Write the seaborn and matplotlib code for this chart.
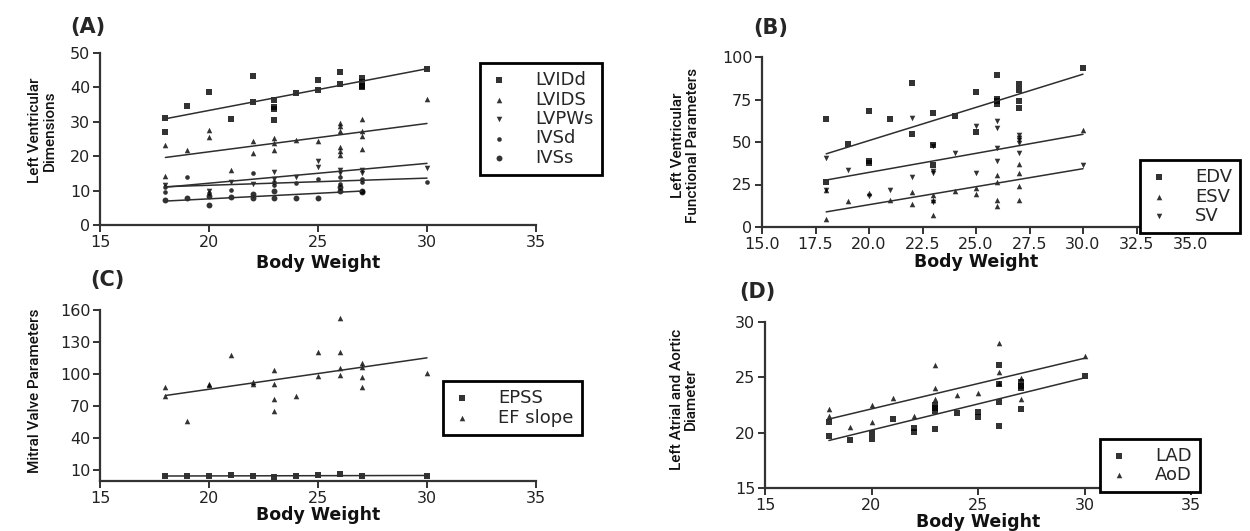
import matplotlib
matplotlib.use("Agg")
import matplotlib.pyplot as plt
from matplotlib import font_manager
import seaborn as sns
import pandas as pd

# ---------------- data ----------------
# Panel A: Left ventricular dimensions
LVIDd_x = [18, 18, 19, 20, 21, 22, 22, 23, 23, 23, 23, 24, 25, 25, 26, 26, 27, 27, 27, 27, 30]
LVIDd_y = [31.1, 27.1, 34.5, 38.6, 30.8, 43.4, 35.9, 36.4, 34.3, 33.7, 30.4, 38.3, 42.2, 39.3, 44.4, 41.1, 42.7, 41.5, 40.5, 40.0, 45.3]
LVIDS_x = [18, 18, 19, 20, 20, 21, 22, 22, 23, 23, 23, 24, 25, 26, 26, 26, 26, 26, 26, 27, 27, 27, 27, 30]
LVIDS_y = [23.2, 14.3, 21.7, 27.7, 25.6, 16.1, 24.5, 21.0, 25.2, 23.8, 21.8, 24.8, 24.3, 29.7, 28.8, 27.2, 22.6, 21.4, 20.4, 30.8, 27.3, 25.8, 22.0, 36.5]
LVPWs_x = [18, 20, 21, 22, 23, 23, 24, 25, 25, 26, 26, 27, 27, 30]
LVPWs_y = [11.5, 10.0, 12.5, 12.0, 15.5, 13.5, 14.0, 18.5, 17.0, 16.0, 15.0, 16.0, 15.0, 16.5]
IVSd_x = [18, 18, 19, 20, 21, 22, 23, 23, 24, 25, 26, 26, 27, 27, 30]
IVSd_y = [11.0, 9.7, 14.0, 9.2, 10.2, 15.0, 12.5, 11.5, 12.2, 13.5, 14.0, 12.0, 13.5, 12.5, 12.6]
IVSs_x = [18, 19, 20, 20, 21, 22, 22, 23, 23, 24, 25, 26, 26, 27, 27]
IVSs_y = [7.3, 7.8, 5.8, 8.3, 8.0, 7.8, 9.0, 7.8, 10.0, 7.8, 7.8, 11.0, 10.0, 10.0, 9.5]

# Panel B: Left ventricular functional parameters
EDV_x = [18, 18, 19, 20, 20, 20, 21, 22, 22, 23, 23, 23, 24, 25, 25, 26, 26, 26, 26, 27, 27, 27, 27, 30]
EDV_y = [63.3, 26.5, 48.6, 68.0, 38.6, 37.6, 63.7, 84.9, 54.5, 67.3, 48.5, 36.3, 65.5, 79.4, 56.0, 89.2, 75.5, 74.0, 72.5, 83.9, 80.8, 73.9, 70.2, 93.5]
ESV_x = [18, 18, 19, 20, 21, 22, 22, 23, 23, 23, 24, 25, 25, 26, 26, 26, 26, 27, 27, 27, 27, 30]
ESV_y = [4.7, 22.0, 15.3, 20.0, 15.7, 20.4, 13.7, 19.0, 16.0, 6.9, 21.4, 23.1, 19.6, 30.6, 26.7, 15.7, 12.2, 36.9, 32.0, 24.1, 15.7, 57.0]
SV_x = [18, 18, 19, 20, 21, 22, 22, 23, 23, 23, 23, 24, 25, 25, 26, 26, 26, 26, 27, 27, 27, 27, 27, 30]
SV_y = [40.6, 21.5, 33.7, 18.0, 21.6, 64.0, 29.4, 47.5, 33.0, 32.0, 15.0, 43.7, 59.4, 31.6, 62.4, 58.0, 46.5, 38.6, 54.3, 52.5, 51.0, 49.4, 43.7, 36.5]

# Panel C: Mitral valve parameters
EPSS_x = [18, 19, 20, 21, 22, 23, 24, 25, 26, 27, 30]
EPSS_y = [4.8, 4.6, 4.4, 5.2, 4.8, 4.2, 4.6, 5.4, 6.2, 5.0, 4.6]
EF_x = [18, 18, 19, 20, 20, 21, 22, 22, 23, 23, 23, 23, 24, 25, 25, 26, 26, 26, 26, 27, 27, 27, 27, 30]
EF_y = [87.5, 79.4, 56.3, 90.6, 89.4, 117.8, 93.0, 91.0, 103.4, 90.3, 76.3, 65.9, 79.4, 120.3, 98.1, 152.8, 120.3, 105.9, 98.8, 110.3, 106.3, 96.9, 87.8, 101.2]

# Panel D: Left atrial and aortic diameter
LAD_x = [18, 18, 19, 20, 20, 21, 22, 22, 23, 23, 23, 23, 24, 25, 25, 26, 26, 26, 26, 27, 27, 27, 27, 30]
LAD_y = [21.0, 19.7, 19.35, 20.0, 19.4, 21.2, 20.45, 20.1, 22.5, 22.2, 21.95, 20.3, 21.8, 21.9, 21.4, 26.1, 24.4, 22.8, 20.6, 24.6, 24.2, 24.0, 22.1, 25.1]
AoD_x = [18, 18, 19, 20, 20, 21, 22, 23, 23, 23, 24, 25, 26, 26, 26, 27, 27, 30]
AoD_y = [22.1, 21.5, 20.5, 22.5, 21.0, 23.1, 21.5, 26.1, 24.0, 23.0, 23.4, 23.6, 28.1, 25.5, 24.5, 24.9, 23.0, 26.9]

xlabel = "Body Weight"
A_ticks = [0, 10, 20, 30, 40, 50]
B_ticks = [0, 25, 50, 75, 100]
C_ticks = [10, 40, 70, 100, 130, 160]
D_ticks = [15, 20, 25, 30]
X_ticks = [15, 20, 25, 30, 35]
B_xticks = [15.0, 17.5, 20.0, 22.5, 25.0, 27.5, 30.0, 32.5, 35.0]

# ---------------- style ----------------
sns.set_theme(style="ticks")
plt.rcParams['font.family'] = ['DejaVu Sans']
installed = {f.name for f in font_manager.fontManager.ttflist}
if 'Liberation Sans Narrow' in installed:
    narrow = ['Liberation Sans Narrow', 'DejaVu Sans']
    ysize, yweight = 12.5, 'bold'
else:
    narrow = ['Roboto', 'Liberation Sans', 'DejaVu Sans']
    ysize, yweight = 11, 'medium'

W, H = 1250, 531
fig = plt.figure(figsize=(12.5, 5.31), dpi=100)
fig.patch.set_facecolor('white')


def px_axes(l, r, t, b):
    return fig.add_axes([l / W, (H - b) / H, (r - l) / W, (b - t) / H])


axA = px_axes(100, 536, 53, 225)
axB = px_axes(762, 1190, 57, 227)
axC = px_axes(100, 536, 310, 481)
axD = px_axes(765, 1191, 322, 488)

line_kws = dict(color='#2e2e2e', lw=1.1)


def series(ax, xs, ys, marker, label, size=16):
    df = pd.DataFrame({'x': xs, 'y': ys})
    sns.regplot(data=df, x='x', y='y', ax=ax, ci=None, truncate=True,
                marker=marker, color='black', label=label,
                scatter_kws=dict(s=size, linewidths=0, color='black'),
                line_kws=line_kws)


def style_axes(ax, ylim, yticks, xticks, ylabel, lab_x, lab_y, xtickfmt=None, xlabelpad=1):
    ax.set_xlim(15, 35)
    ax.set_ylim(*ylim)
    ax.set_xticks(xticks)
    if xtickfmt:
        ax.set_xticklabels([xtickfmt.format(v) for v in xticks])
    ax.set_yticks(yticks)
    sns.despine(ax=ax)
    for s in ('left', 'bottom'):
        ax.spines[s].set_linewidth(1.6)
        ax.spines[s].set_color('#333333')
    ax.tick_params(axis='both', direction='out', length=5, width=1.4,
                   colors='#333333', labelsize=11.5, labelcolor='#222222', pad=2)
    ax.set_xlabel(xlabel, fontsize=12.5, fontweight='bold', labelpad=xlabelpad, color='#111111')
    ax.set_ylabel(ylabel, fontsize=ysize, family=narrow, fontweight=yweight,
                  color='#111111', linespacing=1.05)
    ax.yaxis.set_label_coords(lab_x, lab_y)
    ax.set_facecolor('white')


def legend(ax, x, y):
    leg = ax.legend(loc='upper left', bbox_to_anchor=(x, y), frameon=True, fancybox=False,
                    edgecolor='black', framealpha=1, fontsize=13, markerscale=1.0,
                    handletextpad=1.4, labelspacing=0.08, borderpad=0.45, handlelength=1.2,
                    borderaxespad=0)
    leg.get_frame().set_linewidth(2)
    return leg


# Panel A
series(axA, LVIDd_x, LVIDd_y, 's', 'LVIDd')
series(axA, LVIDS_x, LVIDS_y, '^', 'LVIDS')
series(axA, LVPWs_x, LVPWs_y, 'v', 'LVPWs')
series(axA, IVSd_x, IVSd_y, 'o', 'IVSd', size=11)
series(axA, IVSs_x, IVSs_y, 'o', 'IVSs', size=18)
style_axes(axA, (0, 50), A_ticks, X_ticks, "Left Ventricular\nDimensions", -0.1, 0.55, xlabelpad=3)
legend(axA, 0.872, 0.942)

# Panel B
series(axB, EDV_x, EDV_y, 's', 'EDV')
series(axB, ESV_x, ESV_y, '^', 'ESV')
series(axB, SV_x, SV_y, 'v', 'SV')
style_axes(axB, (0, 100), B_ticks, B_xticks, "Left Ventricular\nFunctional Parameters", -0.145, 0.48,
           xtickfmt="{:.1f}")
legend(axB, 0.883, 0.394)

# Panel C
series(axC, EPSS_x, EPSS_y, 's', 'EPSS')
series(axC, EF_x, EF_y, '^', 'EF slope')
style_axes(axC, (0, 160), C_ticks, X_ticks, "Mitral Valve Parameters", -0.133, 0.53, xlabelpad=0)
legend(axC, 0.787, 0.585)

# Panel D
series(axD, LAD_x, LAD_y, 's', 'LAD')
series(axD, AoD_x, AoD_y, '^', 'AoD')
style_axes(axD, (15, 30), D_ticks, X_ticks, "Left Atrial and Aortic\nDiameter", -0.157, 0.535, xlabelpad=0)
legend(axD, 0.786, 0.298)

# Panel letters
for txt, (px, py) in {"(A)": (88, 27), "(B)": (771, 28), "(C)": (107, 280), "(D)": (757, 292)}.items():
    fig.text(px / W, 1 - py / H, txt, ha='center', va='center', fontsize=15, fontweight='bold')

fig.savefig("out.png", dpi=100, facecolor='white')
